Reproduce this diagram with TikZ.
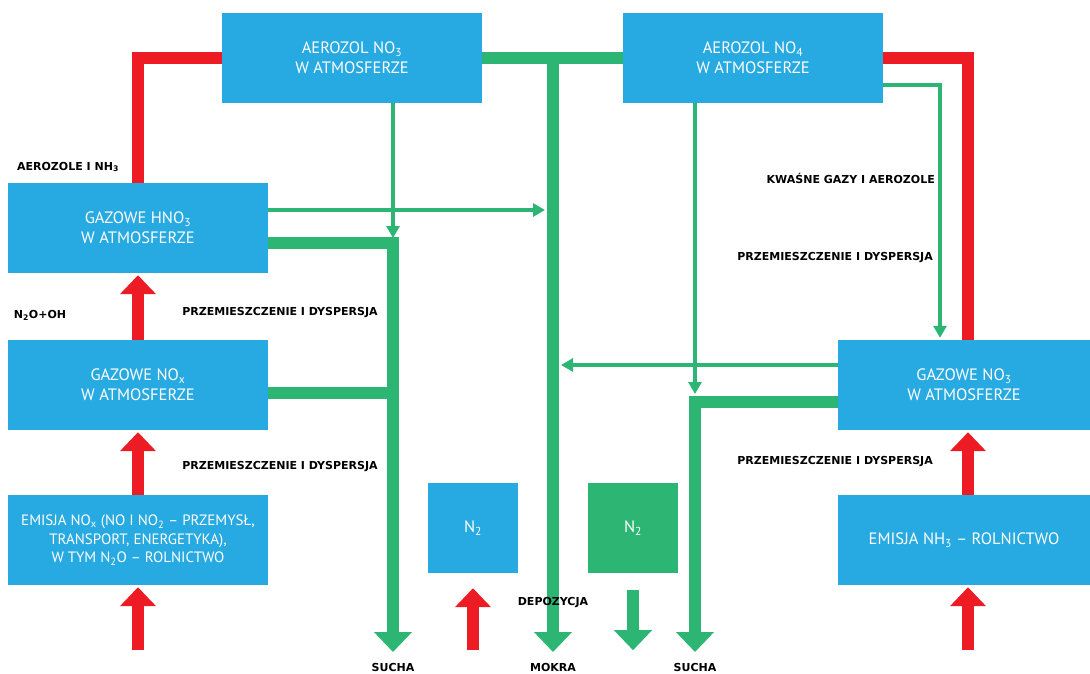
\documentclass[tikz,border=0pt]{standalone}
\usepackage{fontspec}
\setmainfont{PT Sans}
\newfontfamily\tagfont{DejaVu Sans}
\usepackage{tikz}
\usetikzlibrary{arrows.meta, positioning}
\definecolor{boxblue}{HTML}{27A9E1}
\definecolor{boxgreen}{HTML}{2DB673}
\definecolor{flowred}{HTML}{ED1C24}

\begin{document}
\begin{tikzpicture}[x=1pt, y=-1pt,
    box/.style={fill=boxblue, text=white, minimum width=260pt, minimum height=90pt,
                inner sep=0pt, align=center, font=\fontsize{16.5}{20}\selectfont},
    tag/.style={text=black, font=\tagfont\bfseries\fontsize{11}{13}\selectfont, inner sep=0pt},
    redline/.style={draw=flowred, line width=12pt, line join=miter},
    redarrow/.style={draw=flowred, line width=12pt, -{Triangle[width=35pt, length=19pt]}},
    gthick/.style={draw=boxgreen, line width=12pt, line join=miter},
    garrow/.style={gthick, -{Triangle[width=37pt, length=20pt]}},
    gthin/.style={draw=boxgreen, line width=4pt, line join=miter, -{Triangle[width=13pt, length=12pt]}}]
  \useasboundingbox (0, 0) rectangle (1090, 674);

  \node[box]                                          (aerno3) at (352, 58)  {AEROZOL NO\textsubscript{3}\\W ATMOSFERZE};
  \node[box]                                          (aerno4) at (753, 58)  {AEROZOL NO\textsubscript{4}\\W ATMOSFERZE};
  \node[box]                                          (hno3)   at (138, 228) {GAZOWE HNO\textsubscript{3}\\W ATMOSFERZE};
  \node[box]                                          (nox)    at (138, 385) {GAZOWE NO\textsubscript{x}\\W ATMOSFERZE};
  \node[box, font=\fontsize{15}{18.5}\selectfont]     (emnox)  at (138, 540) {EMISJA NO\textsubscript{x} (NO I NO\textsubscript{2} -- PRZEMYSŁ,\\TRANSPORT, ENERGETYKA),\\W TYM N\textsubscript{2}O -- ROLNICTWO};
  \node[box, minimum width=252pt]                     (gazno3) at (964, 385) {GAZOWE NO\textsubscript{3}\\W ATMOSFERZE};
  \node[box, minimum width=252pt]                     (emnh3)  at (964, 540) {EMISJA NH\textsubscript{3} -- ROLNICTWO};
  \node[box, minimum width=90pt, minimum height=90pt] (ntwoa)  at (473, 528) {N\textsubscript{2}};
  \node[box, minimum width=90pt, minimum height=90pt, fill=boxgreen] (ntwob) at (633, 528) {N\textsubscript{2}};

  \coordinate (suchaL) at (393, 652);
  \coordinate (mokra)  at (553, 652);
  \coordinate (suchaR) at (695, 652);
  \coordinate (hitL)   at (393, 238);
  \coordinate (hitM)   at (545, 210);
  \coordinate (hitR)   at (695, 394);
  \coordinate (hitG)   at (561, 365);
  \coordinate (turnR)  at (940, 85);

  \draw[redline] (hno3.north) |- (aerno3.west);
  \draw[redline] (aerno4.east) -| ([xshift=4pt]gazno3.north);
  \draw[redarrow] (nox.north) -- ([yshift=-2pt]hno3.south);
  \draw[redarrow] (emnox.north) -- ([yshift=-2pt]nox.south);
  \draw[redarrow] ([yshift=-65pt]emnox.south) -- ([yshift=-2pt]emnox.south);
  \draw[redarrow] ([yshift=-77pt]ntwoa.south) -- ([yshift=-15pt]ntwoa.south);
  \draw[redarrow] ([xshift=4pt]gazno3.south |- emnh3.north) -- ([xshift=4pt, yshift=-2pt]gazno3.south);
  \draw[redarrow] ([xshift=4pt, yshift=-65pt]emnh3.south) -- ([xshift=4pt, yshift=-2pt]emnh3.south);

  \draw[gthick] (aerno3.east) -- (aerno4.west);
  \draw[garrow] (aerno3.east -| mokra) -- (mokra);
  \draw[garrow] ([yshift=-15pt]hno3.east) -| (suchaL);
  \draw[gthick] ([yshift=-8pt]nox.east) -- ([yshift=-8pt]nox.east -| suchaL);
  \draw[garrow] ([yshift=-17pt]gazno3.west) -| (suchaR);
  \draw[garrow] ([yshift=-17pt]ntwob.south) -- ([yshift=-77pt]ntwob.south);

  \draw[gthin] (aerno3.south -| hitL) -- (hitL);
  \draw[gthin] (hno3.east |- hitM) -- (hitM);
  \draw[gthin] (aerno4.south -| hitR) -- (hitR);
  \draw[gthin] (gazno3.west |- hitG) -- (hitG);
  \draw[gthin] (aerno4.east |- turnR) -| ([xshift=-24pt, yshift=2pt]gazno3.north);

  \node[tag]              (tnh3)  at (68, 167)  {AEROZOLE I NH\textsubscript{3}};
  \node[tag]              (tn2o)  at (40, 315)  {N\textsubscript{2}O+OH};
  \node[tag]              (tpd1)  at (280, 313) {PRZEMIESZCZENIE I DYSPERSJA};
  \node[tag]              (tpd2)  at (280, 467) {PRZEMIESZCZENIE I DYSPERSJA};
  \node[tag, anchor=east] (tkwas) at (935, 178) {KWAŚNE GAZY I AEROZOLE};
  \node[tag, anchor=east] (tpd3)  at (933, 258) {PRZEMIESZCZENIE I DYSPERSJA};
  \node[tag, anchor=east] (tpd4)  at (933, 462) {PRZEMIESZCZENIE I DYSPERSJA};
  \node[tag]              (tdep)  at (553, 603) {DEPOZYCJA};
  \node[tag]              (tsl)   at (393, 667) {SUCHA};
  \node[tag]              (tmok)  at (553, 667) {MOKRA};
  \node[tag]              (tsr)   at (695, 667) {SUCHA};
\end{tikzpicture}
\end{document}
